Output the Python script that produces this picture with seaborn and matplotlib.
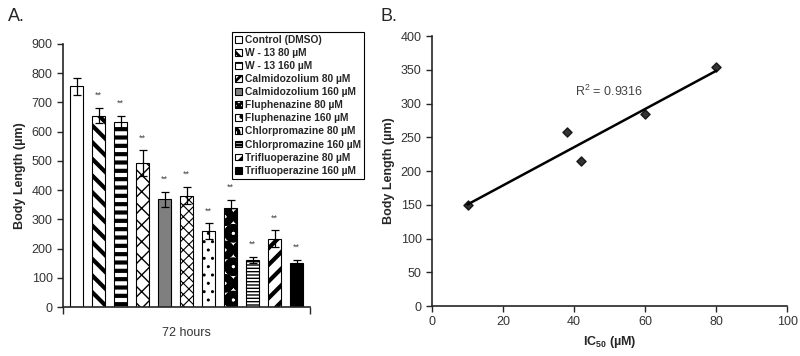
import numpy as np
import pandas as pd
import matplotlib
matplotlib.use("Agg")
import matplotlib.pyplot as plt
import seaborn as sns

# ---------------- data ----------------
treatments = ["Control (DMSO)", "W - 13 80 µM", "W - 13 160 µM",
              "Calmidozolium 80 µM", "Calmidozolium 160 µM",
              "Fluphenazine 80 µM", "Fluphenazine 160 µM",
              "Chlorpromazine 80 µM", "Chlorpromazine 160 µM",
              "Trifluoperazine 80 µM", "Trifluoperazine 160 µM"]
body_length = [755, 655, 634, 492, 368, 381, 260, 339, 162, 233, 151]
body_err = [28, 27, 21, 44, 27, 30, 27, 28, 10, 29, 10]
significant = [False, True, True, True, True, True, True, True, True, True, True]
time_label = "72 hours"

ic50 = [10, 38, 42, 60, 80]
length_b = [150, 258, 215, 284, 355]
r2_text = "R$^2$ = 0.9316"

# ---------------- style ----------------
sns.set_style("ticks")
plt.rcParams['font.family'] = ['Liberation Sans', 'DejaVu Sans']
plt.rcParams['mathtext.fontset'] = 'custom'
plt.rcParams['mathtext.rm'] = 'Liberation Sans'
plt.rcParams['mathtext.bf'] = 'Liberation Sans:bold'
plt.rcParams['hatch.linewidth'] = 2.0

face = {t: "white" for t in treatments}
face["Calmidozolium 160 µM"] = "#7f7f7f"
face["Trifluoperazine 160 µM"] = "black"
hatches = ["", "\\\\", "--", "xx", "", "xxx", "..", "O", "-----", "//", ""]
hatch_lw = [1, 3.0, 3.0, 1.0, 1, 0.8, 1.0, 5.0, 1.0, 3.0, 1]

fig = plt.figure(figsize=(8, 3.56), dpi=100)
axA = fig.add_axes([0.0788, 0.1376, 0.309, 0.739])
axB = fig.add_axes([0.54, 0.1404, 0.444, 0.758])

tick_col = "#333333"

# ---------------- panel A ----------------
dfA = pd.DataFrame({"time": [time_label] * len(treatments),
                    "treatment": treatments,
                    "length": body_length})
sns.barplot(data=dfA, x="time", y="length", hue="treatment",
            hue_order=treatments, palette=face, width=0.98, gap=0.4,
            edgecolor="black", linewidth=0.8, errorbar=None,
            legend=False, ax=axA, saturation=1)

bar_containers = list(axA.containers)
handles = []
for i, cont in enumerate(bar_containers):
    bar = cont.patches[0]
    bar.set_hatch(hatches[i])
    bar.set_edgecolor("black")
    if hasattr(bar, "set_hatch_linewidth"):
        bar.set_hatch_linewidth(hatch_lw[i])
    else:
        bar._hatch_linewidth = hatch_lw[i]
    handles.append(bar)
    cx = bar.get_x() + bar.get_width() / 2
    top = bar.get_height()
    axA.errorbar(cx, top, yerr=body_err[i], color="black", capsize=3,
                 elinewidth=0.9, capthick=0.9, fmt="none")
    if significant[i]:
        axA.text(cx, top + body_err[i] + 42, "**", ha="center",
                 va="center", fontsize=6.5, color="#444444")

axA.set_xlim(-0.5, 0.5)
axA.set_ylim(0, 900)
axA.set_yticks(np.arange(0, 901, 100))
axA.set_xticks([-0.5, 0.5])
axA.set_xticklabels(["", ""])
axA.set_xlabel(time_label, fontsize=9, color=tick_col, labelpad=6)
axA.set_ylabel("Body Length (µm)", fontsize=9, fontweight="bold")
axA.tick_params(axis="y", labelsize=9, labelcolor=tick_col, length=4,
                width=1.0, direction="out")
axA.tick_params(axis="x", length=5, width=1.0, direction="out")
for s in ["left", "bottom"]:
    axA.spines[s].set_linewidth(1.2)
sns.despine(ax=axA)

leg = axA.legend(handles=handles, labels=treatments, loc="upper left",
                 bbox_to_anchor=(0.684, 1.046), fancybox=False,
                 frameon=True, edgecolor="black", framealpha=1,
                 prop={"size": 7.4, "weight": "bold"},
                 handlelength=0.65, handleheight=0.65, handletextpad=0.3,
                 labelspacing=0.3, borderpad=0.3, borderaxespad=0)
leg.get_frame().set_linewidth(0.8)

# ---------------- panel B ----------------
dfB = pd.DataFrame({"ic50": ic50, "length": length_b})
sns.regplot(data=dfB, x="ic50", y="length", ci=None, ax=axB,
            marker="D", color="black",
            scatter_kws={"s": 22, "zorder": 3},
            line_kws={"linewidth": 1.8})
axB.set_xlim(0, 100)
axB.set_ylim(0, 400)
axB.set_xticks(np.arange(0, 101, 20))
axB.set_yticks(np.arange(0, 401, 50))
axB.set_xlabel(r"IC$_\mathbf{50}$ (µM)", fontsize=9, fontweight="bold")
axB.set_ylabel("Body Length (µm)", fontsize=9, fontweight="bold")
axB.tick_params(labelsize=9, labelcolor=tick_col, length=4, width=1.0,
                direction="out")
for s in ["left", "bottom"]:
    axB.spines[s].set_linewidth(1.2)
sns.despine(ax=axB)
axB.text(50, 318, r2_text, ha="center", va="center", fontsize=9,
         color="#444444")

fig.text(0.01, 0.955, "A.", fontsize=13, va="center")
fig.text(0.475, 0.955, "B.", fontsize=13, va="center")

fig.savefig("out.png", dpi=100)
